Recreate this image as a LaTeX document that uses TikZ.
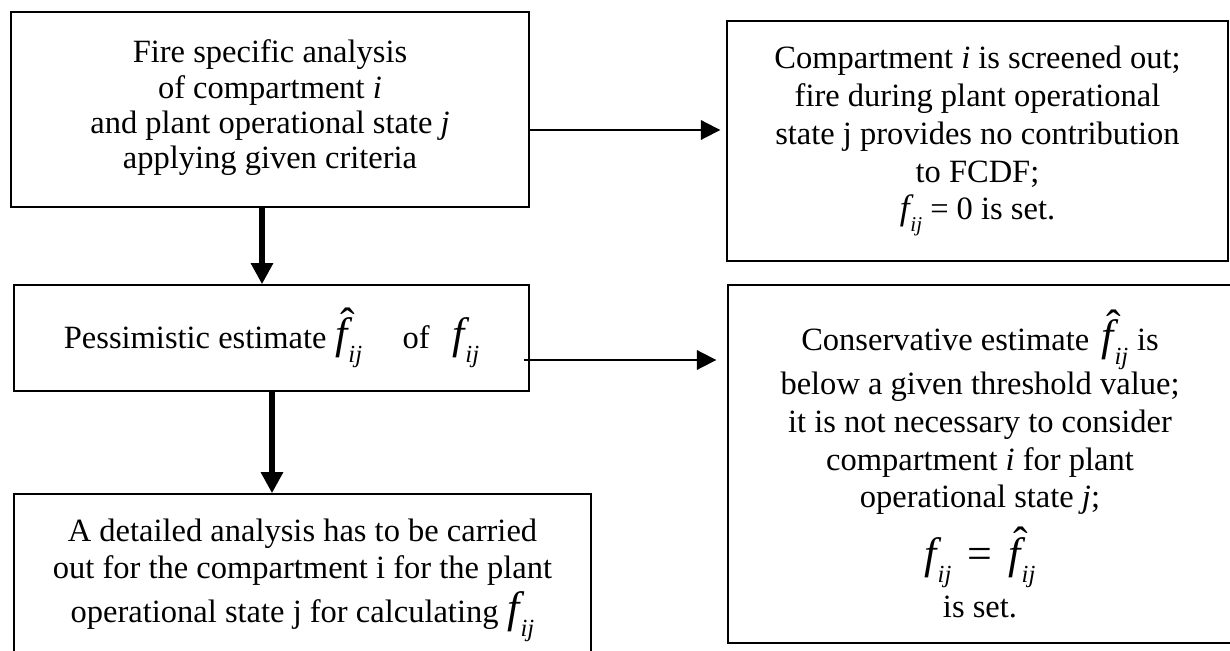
\documentclass[tikz,border=0pt]{standalone}
\usepackage{fontspec}
\setmainfont{Liberation Serif}
\usetikzlibrary{arrows.meta, calc}
% italic f with subscript ij, and the same with a hat
\newcommand{\fij}[2]{{\fontsize{#1}{#1}\selectfont\itshape f\kern0.5pt\raisebox{-0.32em}{\fontsize{#2}{#2}\selectfont ij}}}
\newcommand{\hfij}[2]{{\fontsize{#1}{#1}\selectfont\itshape\rlap{\kern0.12em\raisebox{0.24em}{\upshape\char"02C6}}f\kern0.5pt\raisebox{-0.32em}{\fontsize{#2}{#2}\selectfont ij}}}

\begin{document}
\begin{tikzpicture}[x=0.02cm, y=-0.02cm,
    box/.style={draw, line width=0.85pt, align=center, inner sep=0pt,
      font=\fontsize{18.5}{21.5}\selectfont},
    thinarrow/.style={-{Triangle[length=11pt,width=11pt]}, line width=1.1pt},
    thickarrow/.style={-{Triangle[length=12pt,width=12pt]}, line width=3.4pt}]
  \clip (0,0) rectangle (1230,651);
  \node[box, font=\fontsize{18.5}{20}\selectfont, minimum width=10.36cm, minimum height=3.9cm] (fire) at (270,109.5)
    {Fire specific analysis\\ of compartment \textit{i}\\ and plant operational state \textit{j}\\ applying given criteria\\[-14pt]};
  \node[box, minimum width=10.02cm, minimum height=4.8cm] (screened) at (977.5,141)
    {Compartment \textit{i} is screened out;\\ fire during plant operational\\ state j provides no contribution\\ to FCDF;\\ \fij{20}{12} = 0 is set.};
  \node[box, minimum width=10.3cm, minimum height=2.12cm] (pess) at (271.5,338)
    {Pessimistic estimate\kern5pt\hfij{25}{14}\quad\ of\;\, \fij{25}{14}};
  \node[box, minimum width=11.54cm, minimum height=3.44cm] (detail) at (302.5,580)
    {A detailed analysis has to be carried\\ out for the compartment i for the plant\\[2pt] operational state j for calculating\;\fij{25}{14}};
  \node[box, minimum width=10.08cm, minimum height=7.16cm] (cons) at (980,464)
    {Conservative estimate\kern7pt\hfij{25}{14}\kern5pt is\\ below a given threshold value;\\ it is not necessary to consider\\ compartment \textit{i} for plant\\ operational state \textit{j};\\[6pt] \fij{25}{14}\enspace{\fontsize{25}{25}\selectfont =}\enspace\hfij{25}{14}\\[4pt] is set.};
  % connectors
  \draw[thickarrow] ($(fire.south)+(-8,0)$) -- ($(pess.north)+(-9.5,0)$);
  \draw[thickarrow] ($(pess.south)+(0.5,0)$) -- ($(detail.north)+(-30.5,0)$);
  \draw[thinarrow] ($(fire.east)+(0,20.5)$) -- ($(screened.west)+(-6,-11)$);
  \draw[thinarrow] ($(pess.east)+(-6,22)$) -- ($(cons.west)+(-11,-104)$);
\end{tikzpicture}
\end{document}
